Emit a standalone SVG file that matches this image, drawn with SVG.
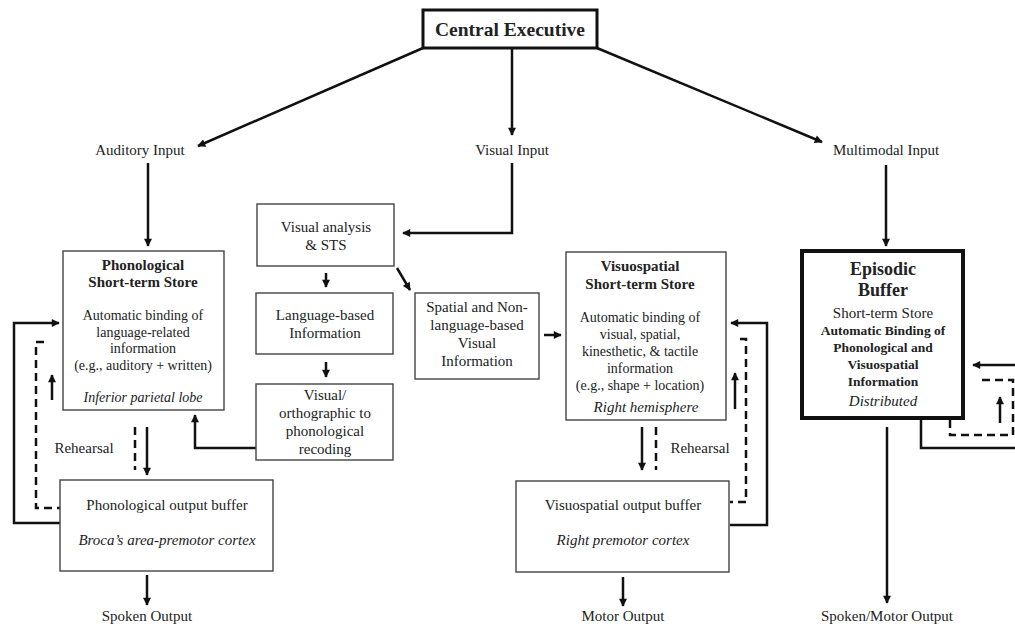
<svg xmlns="http://www.w3.org/2000/svg" width="1015" height="631" viewBox="0 0 1015 631">
<defs>
<marker id="ah" viewBox="0 0 10 10" refX="9" refY="5" markerUnits="userSpaceOnUse" markerWidth="9" markerHeight="8" orient="auto">
<path d="M0,0 L10,5 L0,10 z" fill="#111"/>
</marker>
</defs>
<style>
text{font-family:'Liberation Serif','DejaVu Serif','Noto Serif',serif;fill:#222;text-anchor:middle}
.t15{font-size:15px}
.t14{font-size:14px}
.b{font-weight:bold}
.i{font-style:italic}
.box{fill:#fff;stroke:#444;stroke-width:1.4}
.c{fill:none;stroke:#111;stroke-width:2.5}
.a{fill:none;stroke:#111;stroke-width:2.5;marker-end:url(#ah)}
.d{fill:none;stroke:#111;stroke-width:2.5;stroke-dasharray:8 5}
</style>
<rect width="1015" height="631" fill="#fff"/>
<g id="connectors">
<path class="a" d="M423,48 L198,146"/>
<path class="a" d="M512,48 V135"/>
<path class="a" d="M597,48 L822,142"/>
<path class="a" d="M148,163 V246"/>
<path class="a" d="M512,163 V233 H403"/>
<path class="a" d="M886,165 V246"/>
<path class="a" d="M326,273 V287"/>
<path class="a" d="M326,362 V377"/>
<path class="a" d="M397,268 L410,290"/>
<path class="a" d="M544,335 H561"/>
<path class="a" d="M256,448 H195 V415"/>
<path class="a" d="M60,523 H14 V323 H59"/>
<path class="d" d="M44,342 H36 V508 H60"/>
<path class="a" d="M52,400 V375"/>
<path class="d" d="M135,427 V470"/>
<path class="a" d="M147,427 V475"/>
<path class="a" d="M147,575 V605"/>
<path class="a" d="M730,525 H767 V323 H731"/>
<path class="d" d="M740,339 H746 V502 H730"/>
<path class="a" d="M735,409 V373"/>
<path class="a" d="M642,427 V470"/>
<path class="d" d="M656,427 V470"/>
<path class="a" d="M623,577 V606"/>
<path class="a" d="M1015,365 H973"/>
<path class="d" d="M982,380 H1013 V435 H950 V420"/>
<path class="a" d="M1000,423 V397"/>
<path class="c" d="M921,418 V448 H1015"/>
<path class="a" d="M887,427 V603"/>
</g>
<g font-family="'Liberation Serif', 'DejaVu Serif', serif">
<g id="central-executive">
<rect x="423" y="10" width="174" height="38" fill="#fff" stroke="#111" stroke-width="3"/>
<text x="510" y="36" class="b" style="font-size:19.5px">Central Executive</text>
</g>
<g id="auditory-input"><text x="140" y="155" class="t15">Auditory Input</text></g>
<g id="visual-input"><text x="512" y="155" class="t15">Visual Input</text></g>
<g id="multimodal-input"><text x="886" y="155" class="t15">Multimodal Input</text></g>
<g id="phonological-sts">
<rect class="box" x="63" y="251" width="161" height="159"/>
<text x="143" y="270" class="t15 b">Phonological</text>
<text x="143" y="287" class="t15 b">Short-term Store</text>
<text x="143" y="320" class="t14">Automatic binding of</text>
<text x="143" y="337" class="t14">language-related</text>
<text x="143" y="353" class="t14">information</text>
<text x="143" y="370" class="t14">(e.g., auditory + written)</text>
<text x="143" y="402" class="t14 i">Inferior parietal lobe</text>
</g>
<g id="rehearsal-left"><text x="84" y="453" class="t15">Rehearsal</text></g>
<g id="phonological-output">
<rect class="box" x="60" y="480" width="213" height="91"/>
<text x="167" y="510" class="t15">Phonological output buffer</text>
<text x="167" y="545" class="t15 i">Broca’s area-premotor cortex</text>
</g>
<g id="spoken-output"><text x="147" y="621" class="t15">Spoken Output</text></g>
<g id="visual-analysis">
<rect class="box" x="257" y="204" width="137" height="62"/>
<text x="326" y="232" class="t15">Visual analysis</text>
<text x="326" y="250" class="t15">&amp;  STS</text>
</g>
<g id="language-based">
<rect class="box" x="256" y="293" width="137" height="61"/>
<text x="325" y="320" class="t15">Language-based</text>
<text x="325" y="338" class="t15">Information</text>
</g>
<g id="recoding">
<rect class="box" x="256" y="384" width="137" height="76"/>
<text x="325" y="400" class="t15">Visual/</text>
<text x="325" y="418" class="t15">orthographic to</text>
<text x="325" y="436" class="t15">phonological</text>
<text x="325" y="454" class="t15">recoding</text>
</g>
<g id="spatial-nonlanguage">
<rect class="box" x="415" y="293" width="124" height="86"/>
<text x="477" y="312" class="t15">Spatial and Non-</text>
<text x="477" y="330" class="t15">language-based</text>
<text x="477" y="348" class="t15">Visual</text>
<text x="477" y="366" class="t15">Information</text>
</g>
<g id="visuospatial-sts">
<rect class="box" x="566" y="252" width="160" height="168"/>
<text x="640" y="271" class="t15 b">Visuospatial</text>
<text x="640" y="289" class="t15 b">Short-term Store</text>
<text x="640" y="322" class="t14">Automatic binding of</text>
<text x="640" y="339" class="t14">visual, spatial,</text>
<text x="640" y="356" class="t14">kinesthetic, &amp; tactile</text>
<text x="640" y="373" class="t14">information</text>
<text x="640" y="390" class="t14">(e.g., shape + location)</text>
<text x="646" y="412" class="t15 i">Right hemisphere</text>
</g>
<g id="rehearsal-right"><text x="700" y="453" class="t15">Rehearsal</text></g>
<g id="visuospatial-output">
<rect class="box" x="516" y="481" width="213" height="91"/>
<text x="623" y="510" class="t15">Visuospatial output buffer</text>
<text x="623" y="545" class="t15 i">Right premotor cortex</text>
</g>
<g id="motor-output"><text x="623" y="621" class="t15">Motor Output</text></g>
<g id="episodic-buffer">
<rect x="802" y="251" width="161" height="167" fill="#fff" stroke="#111" stroke-width="4"/>
<text x="883" y="275" class="b" style="font-size:18px">Episodic</text>
<text x="883" y="296" class="b" style="font-size:18px">Buffer</text>
<text x="883" y="318" class="t15">Short-term Store</text>
<text x="883" y="335" class="b" style="font-size:13.5px">Automatic Binding of</text>
<text x="883" y="352" class="b" style="font-size:13.5px">Phonological and</text>
<text x="883" y="369" class="b" style="font-size:13.5px">Visuospatial</text>
<text x="883" y="386" class="b" style="font-size:13.5px">Information</text>
<text x="883" y="406" class="t15 i">Distributed</text>
</g>
<g id="spoken-motor-output"><text x="887" y="621" class="t15">Spoken/Motor Output</text></g>
</g>
</svg>
